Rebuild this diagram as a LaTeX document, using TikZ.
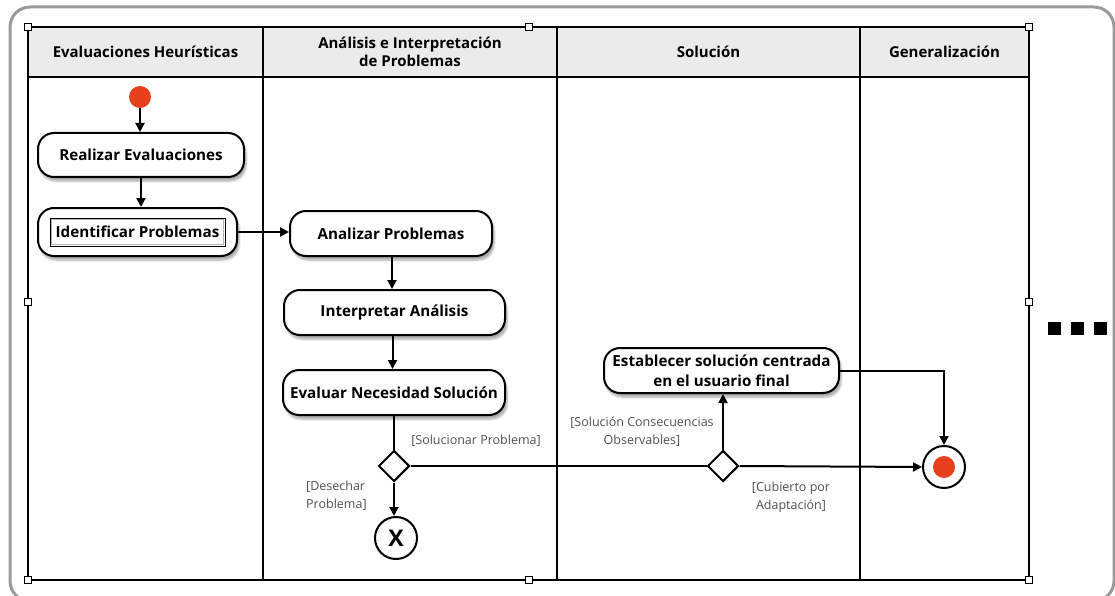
\documentclass[tikz,border=0pt]{standalone}
\usepackage{fontspec}
\setmainfont{Open Sans}
\usetikzlibrary{arrows.meta,shapes.geometric,shadows.blur}

\definecolor{startred}{HTML}{E8401C}
\definecolor{headgray}{HTML}{EBEBEB}
\definecolor{labelgray}{HTML}{505050}
\definecolor{framegray}{HTML}{9A9A9A}

\tikzset{
  lane/.style={line width=2.2pt, line cap=rect},
  handle/.style={draw, fill=white, line width=0.8pt, minimum size=7pt, inner sep=0pt},
  headtext/.style={font=\bfseries\fontsize{15}{17.5}\selectfont, align=center},
  action/.style={draw, line width=2pt, rounded corners=16pt, fill=white,
    minimum height=45pt, inner sep=0pt, align=center,
    font=\bfseries\fontsize{15.2}{19.5}\selectfont,
    blur shadow={shadow xshift=2pt, shadow yshift=-4pt, shadow blur steps=6, shadow opacity=35}},
  decision/.style={draw, diamond, line width=2pt, fill=white, minimum size=31pt, inner sep=0pt},
  guard/.style={font=\fontsize{12.5}{18}\selectfont, text=labelgray, inner sep=0pt},
  flow/.style={line width=2pt, -{Triangle[length=9pt,width=9pt]}},
  link/.style={line width=2pt},
  dot/.style={draw=black, fill=black, minimum size=12pt, inner sep=0pt}
}

\begin{document}
\begin{tikzpicture}[x=1pt, y=-1pt]
\useasboundingbox (0,0) rectangle (1115,596);

% outer frame
\draw[framegray, line width=3pt, rounded corners=20pt] (10,7) rectangle (1114,601);

% swimlane table
\fill[headgray] (28,27) rectangle (1029,77);
\draw[lane] (28,27) rectangle (1029,580);
\draw[lane] (28,77) -- (1029,77);
\foreach \cx in {263,557,860} \draw[lane] (\cx,27) -- (\cx,580);

\node[headtext] (h1) at (145.5,52) {Evaluaciones Heurísticas};
\node[headtext] (h2) at (410,52) {Análisis e Interpretación\\de Problemas};
\node[headtext] (h3) at (708.5,52) {Solución};
\node[headtext] (h4) at (944.5,52) {Generalización};

% selection handles
\foreach \hx/\hy [count=\i] in {28/27,529/27,1029/27,28/302,1029/302,28/580,529/580,1029/580}
  \node[handle] (hd\i) at (\hx,\hy) {};

% continuation mark
\node[dot] (e1) at (1054,328) {};
\node[dot] (e2) at (1077,328) {};
\node[dot] (e3) at (1100,328) {};

% activities
\node[circle, fill=startred, minimum size=22pt, inner sep=0pt] (start) at (140,97) {};
\node[action, minimum width=206pt, minimum height=44pt] (realizar) at (141,155) {Realizar Evaluaciones};
\node[action, minimum width=199pt, minimum height=48pt] (ident) at (137.5,232) {};
\node[draw, line width=0.9pt, minimum width=175pt, minimum height=28pt, inner sep=0pt,
      font=\bfseries\fontsize{15.2}{18}\selectfont] (identin) at (137.5,232) {Identificar Problemas};
\draw[gray!60, line width=0.8pt] ([shift={(1.6pt,1.6pt)}]identin.south west) rectangle ([shift={(-1.6pt,-1.6pt)}]identin.north east);

\node[action, minimum width=202pt] (analizar) at (391,233.5) {Analizar Problemas};
\node[action, minimum width=221pt] (interp) at (394.5,312.5) {Interpretar Análisis};
\node[action, minimum width=222pt] (evaluar) at (394,392.5) {Evaluar Necesidad Solución};
\node[action, minimum width=235pt] (establ) at (721.5,370.5) {Establecer solución centrada\\en el usuario final};

\node[decision] (d1) at (394,466) {};
\node[decision] (d2) at (723,466) {};

\node[circle, draw, line width=2pt, fill=white, minimum size=42pt, inner sep=0pt,
      font=\bfseries\fontsize{23}{23}\selectfont] (stop) at (396,538) {X};
\node[circle, draw, line width=2pt, fill=white, minimum size=42pt, inner sep=0pt] (final) at (944,467) {};
\node[circle, fill=startred, minimum size=22pt, inner sep=0pt] (finaldot) at (final) {};

% connectors
\draw[flow] (start) -- (start |- realizar.north);
\draw[flow] (realizar.south) -- (realizar.south |- ident.north);
\draw[flow] (ident.east) -- (ident.east -| analizar.west);
\draw[flow] ([xshift=1pt]analizar.south) -- ([xshift=1pt]analizar.south |- interp.north);
\draw[flow] ([xshift=-2pt]interp.south) -- ([xshift=-2pt]interp.south |- evaluar.north);
\draw[link] (evaluar.south) -- (d1.north);
\draw[flow] (d1.south) -- (d1.south |- stop.north);
\draw[link] (d1.east) -- (d2.west);
\draw[flow] (d2.north) -- (d2.north |- establ.south);
\draw[flow] (establ.east) -| (final.north);
\draw[flow] (d2.east) -- (final.west);

% guards
\node[guard] (g1) at (476,441) {[Solucionar Problema]};
\node[guard, align=left, anchor=west] (g2) at (306,496) {[Desechar\\Problema]};
\node[guard, align=center] (g3) at (642,432) {[Solución Consecuencias\\Observables]};
\node[guard, align=center] (g4) at (791,497) {[Cubierto por\\Adaptación]};
\end{tikzpicture}
\end{document}
